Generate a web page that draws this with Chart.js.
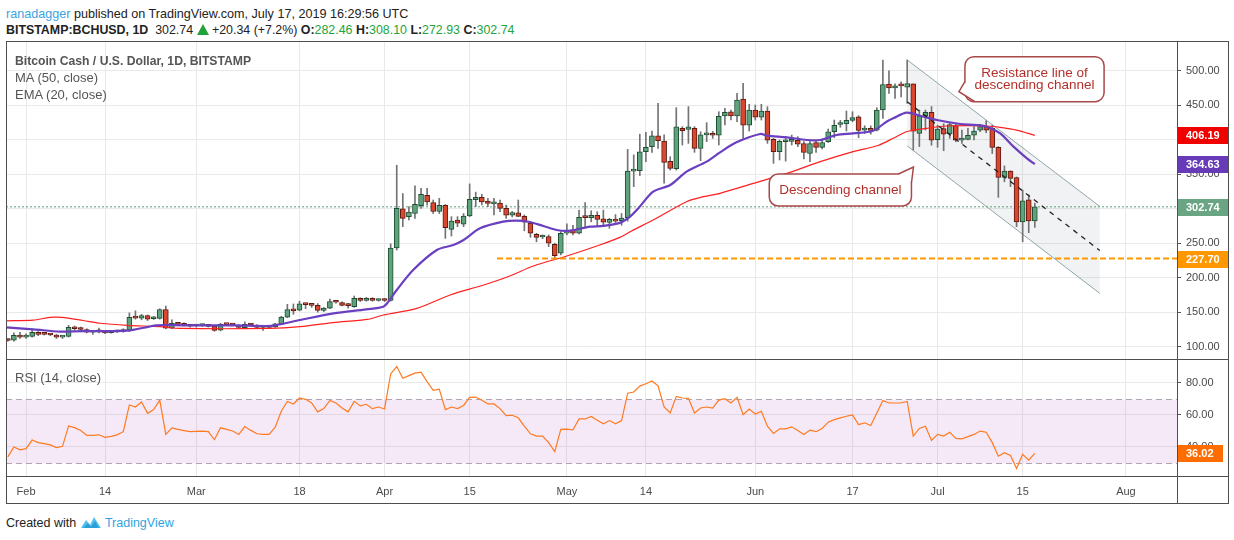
<!DOCTYPE html>
<html lang="en">
<head>
<meta charset="UTF-8" />
<title>Bitcoin Cash / U.S. Dollar, 1D</title>
<script src="https://cdn.jsdelivr.net/npm/chart.js"></script>
<style>
  body { margin: 0; background: #fff; }
  #page { position: relative; width: 1234px; height: 540px; overflow: hidden;
          font-family: "Liberation Sans", Arial, sans-serif; color: #222; }
  .txt { position: absolute; white-space: nowrap; font-size: 13px; line-height: 16px; }
  .line { position: absolute; background: #4f4f4f; }
  .up { color: #22a33a; }
  .tri { display: inline-block; width: 0; height: 0; border-left: 6px solid transparent;
         border-right: 6px solid transparent; border-bottom: 11px solid #22a33a; vertical-align: -1px; }
  canvas { position: absolute; left: 0; }
</style>
</head>
<body>
<div id="page">
  <div class="txt" style="left:6px; top:6px; font-size:12.6px;"><span style="color:#3ba3e3">ranadagger</span> published on TradingView.com, July 17, 2019 16:29:56 UTC</div>
  <div class="txt" style="left:6px; top:22px; font-size:12.4px;"><b>BITSTAMP:BCHUSD, 1D</b>&nbsp; 302.74 <span class="tri"></span> +20.34 (+7.2%) <b>O:</b><span class="up">282.46</span> <b>H:</b><span class="up">308.10</span> <b>L:</b><span class="up">272.93</span> <b>C:</b><span class="up">302.74</span></div>

  <canvas id="priceChart" width="1234" height="317" style="top:42px;"></canvas>
  <canvas id="rsiChart" width="1234" height="144" style="top:359px;"></canvas>

  <div class="txt" style="left:15px; top:53px; color:#555; font-weight:bold; font-size:12.2px;">Bitcoin Cash / U.S. Dollar, 1D, BITSTAMP</div>
  <div class="txt" style="left:15px; top:70px; color:#555;">MA (50, close)</div>
  <div class="txt" style="left:15px; top:87px; color:#555;">EMA (20, close)</div>
  <div class="txt" style="left:15px; top:370px; color:#555;">RSI (14, close)</div>

  <!-- panel frame -->
  <div class="line" style="left:6px; top:41px; width:1223px; height:1px;"></div>
  <div class="line" style="left:6px; top:503px; width:1223px; height:1px;"></div>
  <div class="line" style="left:6px; top:41px; width:1px; height:463px;"></div>
  <div class="line" style="left:1228px; top:41px; width:1px; height:463px;"></div>
  <div class="line" style="left:1177px; top:41px; width:1px; height:463px;"></div>
  <div class="line" style="left:6px; top:359px; width:1223px; height:1px;"></div>
  <div class="line" style="left:6px; top:476px; width:1223px; height:1px;"></div>

  <div class="txt" style="left:6px; top:515px; font-size:12.5px;">Created with
    <svg width="22" height="14" viewBox="0 0 22 14" style="vertical-align:-2px"><path d="M1 13 L6 5 L10 10 L14 2 L21 13 Z" fill="#55c0ef"/><path d="M3 13 L8 8 L11 12 L15 6 L19 13 Z" fill="#2a9fd8"/></svg>
    <span style="color:#2fa3de">TradingView</span></div>
</div>

<script>
  Chart.defaults.font.family = '"Liberation Sans", Arial, sans-serif';
  Chart.defaults.animation = false;

  // day 0 = Feb 1 2019, first candle is Jan 29
  const firstDay = -3;

  const opens = [
    110, 109.5, 116.5, 114, 115, 121, 118.5, 118, 117, 114,
    115, 128, 127, 125, 121, 122, 122, 120.5, 121.5, 122,
    124, 143, 141.5, 145, 140.5, 141, 154, 127, 134, 133,
    131, 130, 130.5, 130.5, 130, 124, 132.5, 132, 131, 127.5,
    132.5, 131, 128, 128, 128.7, 133, 143, 155, 153, 162,
    161, 160, 152.5, 156, 165, 164, 160, 158, 170, 167,
    170, 167, 169, 167, 243, 300, 288.5, 293, 304.5, 319.5,
    309, 296, 305, 270, 283.5, 277.5, 289.5, 313, 316.5, 311,
    307, 308, 300.5, 290.5, 294, 289, 279, 263, 259, 259.5,
    248.5, 235.5, 264.5, 268.5, 264.5, 288, 287, 290.5, 285.5, 280,
    285, 282.5, 287, 354.5, 355, 382.5, 390, 405.5, 398, 368.5,
    358, 416.5, 415, 416.5, 387.5, 407, 408.5, 406.5, 434.5, 440.5,
    434.5, 459, 421, 443, 432.5, 441.5, 400.5, 382.5, 397, 397.5,
    399, 394.5, 380, 396, 389, 397, 411.5, 422, 423, 428,
    433, 414, 416.5, 414, 443, 480.5, 475, 479, 476, 481,
    409, 434.5, 439.5, 400, 416, 408.5, 420.5, 399.5, 400.5, 406.5,
    414, 419, 416.5, 389, 345.5, 354.5, 345, 281, 313, 282.46
  ];
  const highs = [
    111.5, 120, 121, 118.5, 124, 122, 119.5, 119, 118, 116,
    131, 130, 128.5, 126, 123, 127, 123.5, 123, 124, 126,
    149, 152, 147, 146, 144, 155, 159, 139, 135.5, 134.5,
    132, 131.5, 131.5, 131.5, 131, 134, 133.5, 133, 132, 136,
    133.5, 132, 129, 129, 134, 144, 161.5, 162, 166, 163,
    162, 162.5, 157, 169, 166.5, 165, 163, 173.5, 171, 171.5,
    171, 169, 170, 249, 363, 322, 303, 333, 329.5, 329.5,
    312.6, 315, 306, 288.5, 288.5, 293, 336, 324, 321, 315,
    315, 312.6, 305.4, 296, 312.6, 291, 281, 264.3, 262, 262,
    250, 266.7, 278, 276, 298, 309, 297, 295.7, 298, 286,
    291.5, 293, 386, 378, 408, 410.7, 412.6, 452.7, 407, 375.4,
    446.5, 419, 448, 419, 411.6, 424.7, 412, 440.6, 445.5, 443,
    467.2, 481.7, 451.3, 450.3, 451.3, 447.9, 402, 399.6, 404.4, 406.8,
    404.4, 397.2, 399.6, 398, 399.6, 415.5, 428.5, 428, 441.6, 440.6,
    434.8, 420.3, 420, 446.4, 515.5, 500, 481, 484, 515.5, 481,
    443, 443, 448, 421, 423, 423.7, 422.8, 414, 416.5, 419,
    422.3, 427.5, 421, 390, 362, 355, 346, 327, 320, 308.10
  ];
  const lows = [
    108, 108, 112, 112, 114, 116, 117, 116, 112, 112,
    114, 124, 123.5, 120, 118, 120, 119, 119.5, 120.5, 121,
    122, 140, 139, 138, 139.5, 140, 126, 126, 131, 130,
    128.5, 128.5, 129.5, 128.5, 122.4, 123, 131, 130.5, 127, 126.5,
    131, 127, 123.5, 127, 128, 132, 142, 147, 152, 155,
    157, 150, 151, 155, 163, 159, 156, 157, 165.5, 166,
    166, 166, 165.5, 166, 240, 274, 283.7, 286, 300.5, 305,
    293, 293, 257, 260.5, 274, 274, 288.5, 303, 305.5, 303,
    291, 295.7, 286, 288, 288.5, 268, 258.5, 252, 256.5, 245,
    229, 233, 262, 262, 263.3, 273, 281, 275, 276.4, 271.6,
    280, 276, 282, 332, 348, 368, 381.7, 387.5, 337, 356,
    356, 392.3, 394.7, 381.7, 369.6, 397.2, 402, 392.3, 421.3, 428.5,
    426.1, 402, 412.6, 428.5, 428.5, 394.7, 365.7, 370.6, 369, 392.3,
    390, 372, 368, 381.7, 386.5, 396, 403, 418, 412.6, 426,
    403, 409, 408, 412.6, 431, 467, 460, 462, 452.7, 385,
    390, 414, 392, 389, 384, 402, 397, 394.7, 399.6, 399.6,
    411.6, 410, 380, 316.5, 339, 332, 274, 252, 265.3, 272.93
  ];
  const closes = [
    109, 116.5, 114, 115, 121, 118, 118, 117, 114, 114.5,
    128, 126, 125, 121, 122, 121.5, 120, 122, 123, 124,
    142.5, 141.5, 145, 140, 142.5, 154, 127, 134, 132.5, 131,
    129.7, 130.5, 130.5, 129.5, 123.5, 132.5, 132, 131.5, 128, 132.5,
    131.5, 127.8, 128, 128.3, 133, 143, 154, 152, 162, 161,
    160, 152.5, 156, 165.5, 164.5, 160, 159.5, 170, 167, 170,
    167, 168, 167, 243, 300.5, 286, 295, 306.5, 321, 310,
    296, 305, 272.5, 282, 279, 289.5, 313.5, 316.5, 310, 307.5,
    307.5, 300.5, 290.5, 294.5, 289, 280.5, 264.5, 258.5, 260.5, 250,
    232, 264.5, 267.5, 264.5, 287.5, 287, 290.5, 284.5, 280.5, 284.5,
    282, 286.5, 354.5, 355.5, 382.5, 389, 405.5, 398.5, 367, 358.5,
    418.5, 413, 418.5, 387.5, 407, 409.5, 406.5, 434, 439.5, 434.5,
    457.5, 421, 443, 432.5, 441.5, 399.5, 382.5, 397.5, 398, 400.5,
    393.5, 381.5, 394.5, 389, 396, 411.5, 421, 423.5, 428, 432,
    413.5, 417, 413.5, 443, 480, 475, 478, 478, 481.5, 412.5,
    434.5, 439.5, 399.5, 415.5, 408, 422, 399.5, 400.5, 406.5, 412.5,
    419, 414, 389, 345.5, 354.5, 344, 281, 311.5, 282.46, 302.74
  ];
  const rsiValues = [
    33.9, 40, 38.2, 39, 44.3, 42.7, 42.1, 41.3, 39.6, 40.4,
    53.1, 52, 50.2, 47.2, 47.2, 47.6, 46, 46.6, 47.5, 49.5,
    66.1, 64.8, 67.9, 60.9, 63.2, 69.1, 47.8, 51.9, 50.9, 50.2,
    49.5, 49.7, 49.8, 49.5, 44.5, 51.9, 50.9, 49.9, 47.8, 52.7,
    50.3, 48.2, 47.8, 47.8, 52.3, 62.2, 68.3, 66.7, 70.4, 69.6,
    67.3, 61.8, 63.8, 68.9, 67.3, 64.2, 61.8, 68.3, 65.5, 66.5,
    63.8, 64.8, 63.6, 85.3, 89.9, 82.7, 84.3, 85.8, 86.4, 80.6,
    75.1, 75.9, 63.2, 64.8, 63.8, 65.8, 70.8, 71, 69, 66.7,
    66.7, 63.8, 59.5, 59.7, 58.1, 53, 48.2, 46.8, 46.8, 42.7,
    37.1, 50.9, 51.1, 50.7, 57.4, 57.4, 58.9, 56.6, 54.4, 56.4,
    54.4, 56.4, 73.4, 74.1, 77.8, 79.2, 81, 78, 64.8, 61.1,
    71.4, 70.4, 70.2, 61.1, 64.2, 64.8, 64.2, 69.1, 70, 67.3,
    70.8, 60.1, 63.6, 60.5, 62.2, 52.9, 48.4, 51.3, 51.3, 52.5,
    50.3, 47.8, 50.5, 49.5, 51.5, 55.4, 57, 58.1, 59.1, 59.9,
    53.9, 55, 53.3, 61.1, 68.9, 67.3, 67.3, 67.3, 68.3, 46.8,
    51.5, 52.9, 44.1, 47.8, 46.8, 49.2, 45.3, 45.1, 46.4, 47.8,
    49.9, 49.2, 42.7, 34.3, 36.5, 34.7, 26.7, 35.5, 31.8, 36.02
  ];

  // MA (50) and EMA (20) at these days
  const maDays = [-3.3, 1.2, 3.9, 5.9, 9.4, 12.2, 16.6, 22, 25.3, 40, 45.1, 50.5, 56.1, 58.8, 64.3, 69.8, 75.3, 79.6, 83.5, 89, 94.4, 97.7, 99.9, 103.2, 108.7, 111.5, 114.2, 119.7, 125.2, 130.7, 136.1, 140.3, 142.7, 144.9, 148.2, 151.5, 158.1, 160.3, 163, 166];
  const maValues = [137.5, 138.5, 142.5, 142.5, 138, 134, 131, 129, 126.5, 126.5, 129, 135, 139.5, 146, 155.6, 175, 189.4, 202.5, 217, 231.5, 247.4, 258.5, 269, 283.6, 310.2, 317.4, 322.3, 336.8, 351.2, 368.2, 382.7, 392, 402, 411.6, 416.5, 419.9, 419.9, 418, 414, 406.19];
  const emaDays = [-3.3, 1.2, 5.6, 9.4, 16.6, 21.5, 25.9, 34.1, 39.6, 41.2, 45.1, 50.6, 56, 58.8, 59.6, 61, 63.7, 67.6, 70.3, 72, 74.7, 78.5, 80.7, 82.9, 85.1, 87.3, 89.5, 92.8, 95, 97.7, 99.4, 100.8, 103.2, 106, 108.7, 112, 114.2, 116.9, 120.8, 121.9, 125.2, 128.5, 130.7, 133.4, 136.1, 139.4, 141.6, 142.7, 144.9, 147.1, 149.9, 153.7, 156.4, 158.1, 160.3, 162.5, 164.7, 166];
  const emaValues = [128, 125.2, 121.8, 122.7, 123.2, 131, 131, 131, 130, 131.4, 138.7, 148.4, 154.2, 158, 165, 182.2, 211.2, 240.2, 247.4, 254.7, 271.6, 281.2, 282.7, 280.8, 275, 269.2, 268.2, 274, 275, 279.5, 288.5, 301, 324.7, 334.3, 353.7, 368.2, 381.7, 396.2, 408.3, 405.8, 403.4, 399.6, 399.6, 406.8, 409.2, 413, 426.1, 431, 439.2, 434.8, 428.5, 422.8, 421.3, 418.9, 409.2, 389.9, 373, 364.63];

  const tickDays = [0, 13, 28, 45, 59, 73, 89, 102, 120, 136, 150, 164, 181];
  const tickLabels = ['Feb', '14', 'Mar', '18', 'Apr', '15', 'May', '14', 'Jun', '17', 'Jul', '15', 'Aug'];
  const priceTicks = [100, 150, 200, 250, 300, 350, 400, 450, 500];
  const rsiTicks = [40, 60, 80];

  // drawings
  const supportLevel = 227.70;
  const supportStart = 77.5;
  const channelDays = [145, 176.7];
  const channelUpper = [515.6, 303.3];
  const channelLower = [391, 177.3];
  const channelMid = [455, 239.4];
  const rsiUpper = 70, rsiLower = 30;

  const xMin = -3.3, xMax = 189.4;

  const upFill = '#5fa37d', upBorder = '#1f4d33';
  const downFill = '#d9472f', downBorder = '#5b1a13';
  const wickColor = '#737375';
  const axisText = '#4a4a4a';
  const gridColor = '#e9e9e9';

  const days = opens.map((_, i) => firstDay + i);
  const lastClose = closes[closes.length - 1];
  const lastMA = maValues[maValues.length - 1];
  const lastEMA = emaValues[emaValues.length - 1];
  const lastRSI = rsiValues[rsiValues.length - 1];

  const pts = (xs, ys) => xs.map((x, i) => ({ x: x, y: ys[i] }));

  const notes = [
    { lines: ['Descending channel'], x1: 122.3, x2: 145.7, y1: 350.3, y2: 303.9, tail: 'tr' },
    { lines: ['Resistance line of', 'descending channel'], x1: 154.5, x2: 177.4, y1: 520.3, y2: 455.1, tail: 'bl' }
  ];

  function fixedX(height) {
    return function (scale) {
      scale.height = height;
      scale.paddingLeft = 0; scale.paddingRight = 0;
    };
  }
  function fixedY(scale) {
    scale.width = 51;
    scale.paddingTop = 0; scale.paddingBottom = 0;
  }
  function setTicks(values) {
    return function (scale) { scale.ticks = values.map(v => ({ value: v })); };
  }

  function drawTag(ctx, area, scale, value, color, w) {
    const y = scale.getPixelForValue(value);
    ctx.fillStyle = color;
    ctx.fillRect(area.right + 1, Math.round(y - 8), w, 17);
    ctx.fillStyle = '#fff';
    ctx.font = 'bold 11px "Liberation Sans", Arial, sans-serif';
    ctx.textAlign = 'left';
    ctx.textBaseline = 'middle';
    ctx.fillText(value.toFixed(2), area.right + 9, y + 1);
  }

  function drawNote(ctx, n, xs, ys) {
    const l = xs.getPixelForValue(n.x1), r = xs.getPixelForValue(n.x2);
    const t = ys.getPixelForValue(n.y1), b = ys.getPixelForValue(n.y2);
    ctx.save();
    ctx.beginPath();
    ctx.roundRect(l, t, r - l, b - t, 9);
    ctx.fillStyle = '#fff';
    ctx.fill();
    ctx.lineWidth = 1.5;
    ctx.strokeStyle = '#a84848';
    ctx.stroke();
    let tri;
    if (n.tail === 'tr') tri = [[r - 13, t], [r + 2, t - 7], [r, t + 9]];
    else tri = [[l, b - 20], [l - 6, b - 10], [l + 10, b]];
    ctx.beginPath();
    ctx.moveTo(tri[0][0], tri[0][1]);
    ctx.lineTo(tri[1][0], tri[1][1]);
    ctx.lineTo(tri[2][0], tri[2][1]);
    ctx.closePath();
    ctx.fill();
    ctx.beginPath();
    ctx.moveTo(tri[0][0], tri[0][1]);
    ctx.lineTo(tri[1][0], tri[1][1]);
    ctx.lineTo(tri[2][0], tri[2][1]);
    ctx.stroke();
    ctx.fillStyle = '#b3302a';
    ctx.font = '13.5px "Liberation Sans", Arial, sans-serif';
    ctx.textAlign = 'center';
    ctx.textBaseline = 'middle';
    const cy = (t + b) / 2, lh = 12;
    n.lines.forEach((s, i) => {
      ctx.fillText(s, (l + r) / 2, cy + (i - (n.lines.length - 1) / 2) * lh);
    });
    ctx.restore();
  }

  const priceExtras = {
    id: 'priceExtras',
    afterDatasetsDraw(chart) {
      const { ctx, scales } = chart;
      notes.forEach(n => drawNote(ctx, n, scales.x, scales.y));
    },
    afterDraw(chart) {
      const { ctx, chartArea, scales } = chart;
      ctx.save();
      drawTag(ctx, chartArea, scales.y, lastMA, '#f20000', 50);
      drawTag(ctx, chartArea, scales.y, lastEMA, '#673ab7', 50);
      drawTag(ctx, chartArea, scales.y, lastClose, '#6aa583', 50);
      drawTag(ctx, chartArea, scales.y, supportLevel, '#ff9800', 50);
      ctx.restore();
    }
  };

  const rsiExtras = {
    id: 'rsiExtras',
    beforeDatasetsDraw(chart) {
      const { ctx, chartArea: a, scales: { y } } = chart;
      const top = Math.round(y.getPixelForValue(rsiUpper)) + 0.5;
      const bot = Math.round(y.getPixelForValue(rsiLower)) + 0.5;
      ctx.save();
      ctx.fillStyle = 'rgba(156, 39, 176, 0.1)';
      ctx.fillRect(a.left, top, a.right - a.left, bot - top);
      ctx.strokeStyle = '#b0a6b3';
      ctx.lineWidth = 1;
      ctx.setLineDash([6, 4]);
      [top, bot].forEach(p => {
        ctx.beginPath(); ctx.moveTo(a.left, p); ctx.lineTo(a.right, p); ctx.stroke();
      });
      ctx.restore();
    },
    afterDraw(chart) {
      const { ctx, chartArea, scales } = chart;
      ctx.save();
      drawTag(ctx, chartArea, scales.y, lastRSI, '#ff6d00', 45);
      ctx.restore();
    }
  };

  const priceChart = new Chart(document.getElementById('priceChart'), {
    type: 'bar',
    data: {
      datasets: [
        {
          type: 'line', data: pts(channelDays, channelUpper), borderColor: '#8ea6aa', borderWidth: 1,
          pointRadius: 0, fill: '+1', backgroundColor: 'rgba(120, 128, 140, 0.1)', order: 20
        },
        {
          type: 'line', data: pts(channelDays, channelLower), borderColor: '#8ea6aa', borderWidth: 1,
          pointRadius: 0, fill: false, order: 19
        },
        {
          type: 'line', data: pts([xMin, xMax], [lastClose, lastClose]), borderColor: '#5f9f7b', borderWidth: 1,
          borderDash: [2, 2], pointRadius: 0, fill: false, order: 18
        },
        {
          type: 'bar', data: days.map((d, i) => ({ x: d, y: [lows[i], highs[i]] })),
          backgroundColor: wickColor, barThickness: 1, grouped: false, order: 9
        },
        {
          type: 'bar', data: days.map((d, i) => ({ x: d, y: [opens[i], closes[i]] })),
          backgroundColor: closes.map((c, i) => c >= opens[i] ? upFill : downFill),
          borderColor: closes.map((c, i) => c >= opens[i] ? upBorder : downBorder),
          borderWidth: 1, borderSkipped: false, minBarLength: 2, barThickness: 5, grouped: false, order: 8
        },
        {
          type: 'line', data: pts(maDays, maValues), borderColor: '#ff1f1f', borderWidth: 1.2,
          pointRadius: 0, fill: false, tension: 0.3, order: 5
        },
        {
          type: 'line', data: pts(emaDays, emaValues), borderColor: '#6a3fc0', borderWidth: 2.2,
          pointRadius: 0, fill: false, tension: 0.3, order: 4
        },
        {
          type: 'line', data: pts([supportStart, xMax], [supportLevel, supportLevel]), borderColor: '#ff9800',
          borderWidth: 2, borderDash: [6, 3], pointRadius: 0, fill: false, order: 3
        },
        {
          type: 'line', data: pts(channelDays, channelMid), borderColor: '#222', borderWidth: 1.3,
          borderDash: [5, 5], pointRadius: 0, fill: false, order: 2
        }
      ]
    },
    options: {
      responsive: false,
      layout: { padding: { left: 6, right: 6, top: 0, bottom: 0 } },
      plugins: { legend: { display: false }, tooltip: { enabled: false } },
      scales: {
        x: {
          type: 'linear', min: xMin, max: xMax, offset: false,
          afterBuildTicks: setTicks(tickDays), afterFit: fixedX(0),
          ticks: { display: false },
          grid: { color: gridColor, drawTicks: false, offset: false },
          border: { display: false }
        },
        y: {
          position: 'right', min: 82.2, max: 541.6,
          afterBuildTicks: setTicks(priceTicks), afterFit: fixedY,
          ticks: { color: axisText, font: { size: 11 }, padding: 5, callback: v => v.toFixed(2) },
          grid: { color: gridColor, tickColor: '#555', tickLength: 4 },
          border: { display: false }
        }
      }
    },
    plugins: [priceExtras]
  });

  const rsiChart = new Chart(document.getElementById('rsiChart'), {
    type: 'line',
    data: {
      datasets: [{
        data: pts(days, rsiValues), borderColor: '#ff7a1f', borderWidth: 1.2,
        pointRadius: 0, fill: false, tension: 0
      }]
    },
    options: {
      responsive: false,
      layout: { padding: { left: 6, right: 6, top: 0, bottom: 0 } },
      plugins: { legend: { display: false }, tooltip: { enabled: false } },
      scales: {
        x: {
          type: 'linear', min: xMin, max: xMax,
          afterBuildTicks: setTicks(tickDays), afterFit: fixedX(27),
          ticks: {
            color: axisText, font: { size: 11 }, padding: 9, maxRotation: 0, autoSkip: false,
            callback: (v) => tickLabels[tickDays.indexOf(v)]
          },
          grid: { color: gridColor, drawTicks: false },
          border: { display: false }
        },
        y: {
          position: 'right', min: 22, max: 94.6,
          afterBuildTicks: setTicks(rsiTicks), afterFit: fixedY,
          ticks: { color: axisText, font: { size: 11 }, padding: 5, callback: v => v.toFixed(2) },
          grid: { color: gridColor, tickColor: '#555', tickLength: 4 },
          border: { display: false }
        }
      }
    },
    plugins: [rsiExtras]
  });
</script>
</body>
</html>
